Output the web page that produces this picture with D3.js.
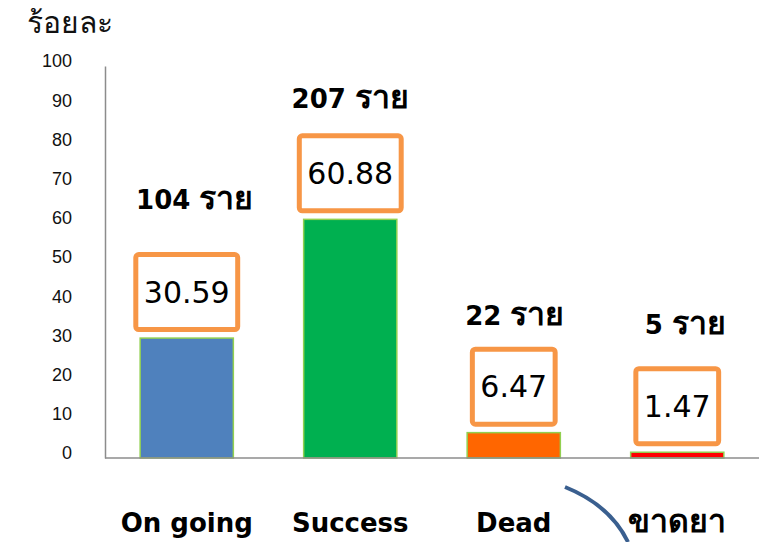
<!DOCTYPE html>
<html>
<head>
<meta charset="utf-8">
<script src="https://cdnjs.cloudflare.com/ajax/libs/d3/7.8.5/d3.min.js"></script>
<style>
  html, body { margin: 0; padding: 0; background: #fff; }
  svg { display: block; font-family: "DejaVu Sans", "Noto Sans", sans-serif; }
</style>
</head>
<body>
<div id="chart"></div>
<script>
// ข้อมูลของกราฟ
const categories = ["On going", "Success", "Dead", "ขาดยา"];
const percents = [30.59, 60.88, 6.47, 1.47];
const counts = [104, 207, 22, 5];
const barColors = ["#4f81bd", "#00b050", "#ff6600", "#ff0000"];
const yTicks = [0, 10, 20, 30, 40, 50, 60, 70, 80, 90, 100];

const w = 759;
const h = 542;

// ตำแหน่งป้ายจำนวนราย (เลื่อนเล็กน้อยตามภาพ)
const countDx = [8, 0, 1, 8];
const countGap = [43, 25, 22, 32];

const isThai = (s) => /[\u0E00-\u0E7F]/.test(s);

const xScale = d3.scaleBand()
                 .domain(categories)
                 .range([105, 759])
                 .paddingInner(0.43)
                 .paddingOuter(0.215);

const yScale = d3.scaleLinear()
                 .domain([0, 100])
                 .range([458, 66]);

const svg = d3.select("#chart")
              .append("svg")
              .attr("width", w)
              .attr("height", h);

// ชื่อแกน y
svg.append("text")
   .attr("x", 27)
   .attr("y", 33)
   .attr("font-size", 30)
   .attr("fill", "#111")
   .text("ร้อยละ");

// แกน y
const yAxis = d3.axisLeft(yScale)
                .tickValues(yTicks)
                .tickSize(0)
                .tickPadding(33);

const gy = svg.append("g")
   .attr("transform", "translate(105,0)")
   .call(yAxis);
gy.select(".domain").attr("stroke", "#8c8c8c").attr("stroke-width", 1.5);
gy.selectAll("text")
  .attr("font-size", 18)
  .attr("fill", "#111")
  .attr("dy", "0.05em")
  .style("font-family", "inherit");

// แท่ง
svg.selectAll("rect.bar")
   .data(categories)
   .enter()
   .append("rect")
   .attr("class", "bar")
   .attr("x", (d) => xScale(d))
   .attr("y", (d, i) => yScale(percents[i]))
   .attr("width", xScale.bandwidth())
   .attr("height", (d, i) => yScale(0) - yScale(percents[i]))
   .attr("fill", (d, i) => barColors[i])
   .attr("stroke", "#92d050")
   .attr("stroke-width", 1.5);

// แกน x
svg.append("line")
   .attr("x1", 105)
   .attr("x2", 759)
   .attr("y1", yScale(0))
   .attr("y2", yScale(0))
   .attr("stroke", "#8c8c8c")
   .attr("stroke-width", 1.5);

// ป้ายค่าในกรอบสีส้ม
const boxes = svg.selectAll("g.vbox")
   .data(categories)
   .enter()
   .append("g")
   .attr("class", "vbox");

boxes.each(function(d, i) {
  const g = d3.select(this);
  const cx = xScale(d) + xScale.bandwidth() / 2;
  const bottom = yScale(percents[i]) - 6;
  const bh = 75;
  const t = g.append("text")
     .attr("x", cx)
     .attr("y", bottom - 2.5 - bh / 2)
     .attr("dy", "0.36em")
     .attr("text-anchor", "middle")
     .attr("font-size", 30)
     .attr("fill", "#000")
     .text(percents[i].toFixed(2));
  const tw = t.node().getComputedTextLength();
  const bw = tw + 16;
  g.insert("rect", "text")
   .attr("x", cx - bw / 2)
   .attr("y", bottom - 2.5 - bh)
   .attr("width", bw)
   .attr("height", bh)
   .attr("rx", 3)
   .attr("fill", "#fff")
   .attr("stroke", "#f79646")
   .attr("stroke-width", 5);

  // จำนวนราย
  const c = g.append("text")
   .attr("x", cx + countDx[i])
   .attr("y", bottom - bh - 5 - countGap[i])
   .attr("text-anchor", "middle")
   .attr("font-size", 26)
   .attr("font-weight", "bold")
   .attr("fill", "#000");
  c.append("tspan").text(counts[i] + " ");
  c.append("tspan").attr("font-size", 32).text("ราย");
});

// ชื่อหมวด
svg.selectAll("text.cat")
   .data(categories)
   .enter()
   .append("text")
   .attr("class", "cat")
   .attr("x", (d) => xScale(d) + xScale.bandwidth() / 2)
   .attr("y", 532)
   .attr("text-anchor", "middle")
   .attr("font-size", (d) => isThai(d) ? 32 : 26)
   .attr("font-weight", "bold")
   .attr("fill", "#000")
   .text((d) => d);

// เส้นโค้ง
svg.append("path")
   .attr("d", "M565,487 Q610,505 628,542")
   .attr("fill", "none")
   .attr("stroke", "#3a5f8f")
   .attr("stroke-width", 4);
</script>
</body>
</html>
